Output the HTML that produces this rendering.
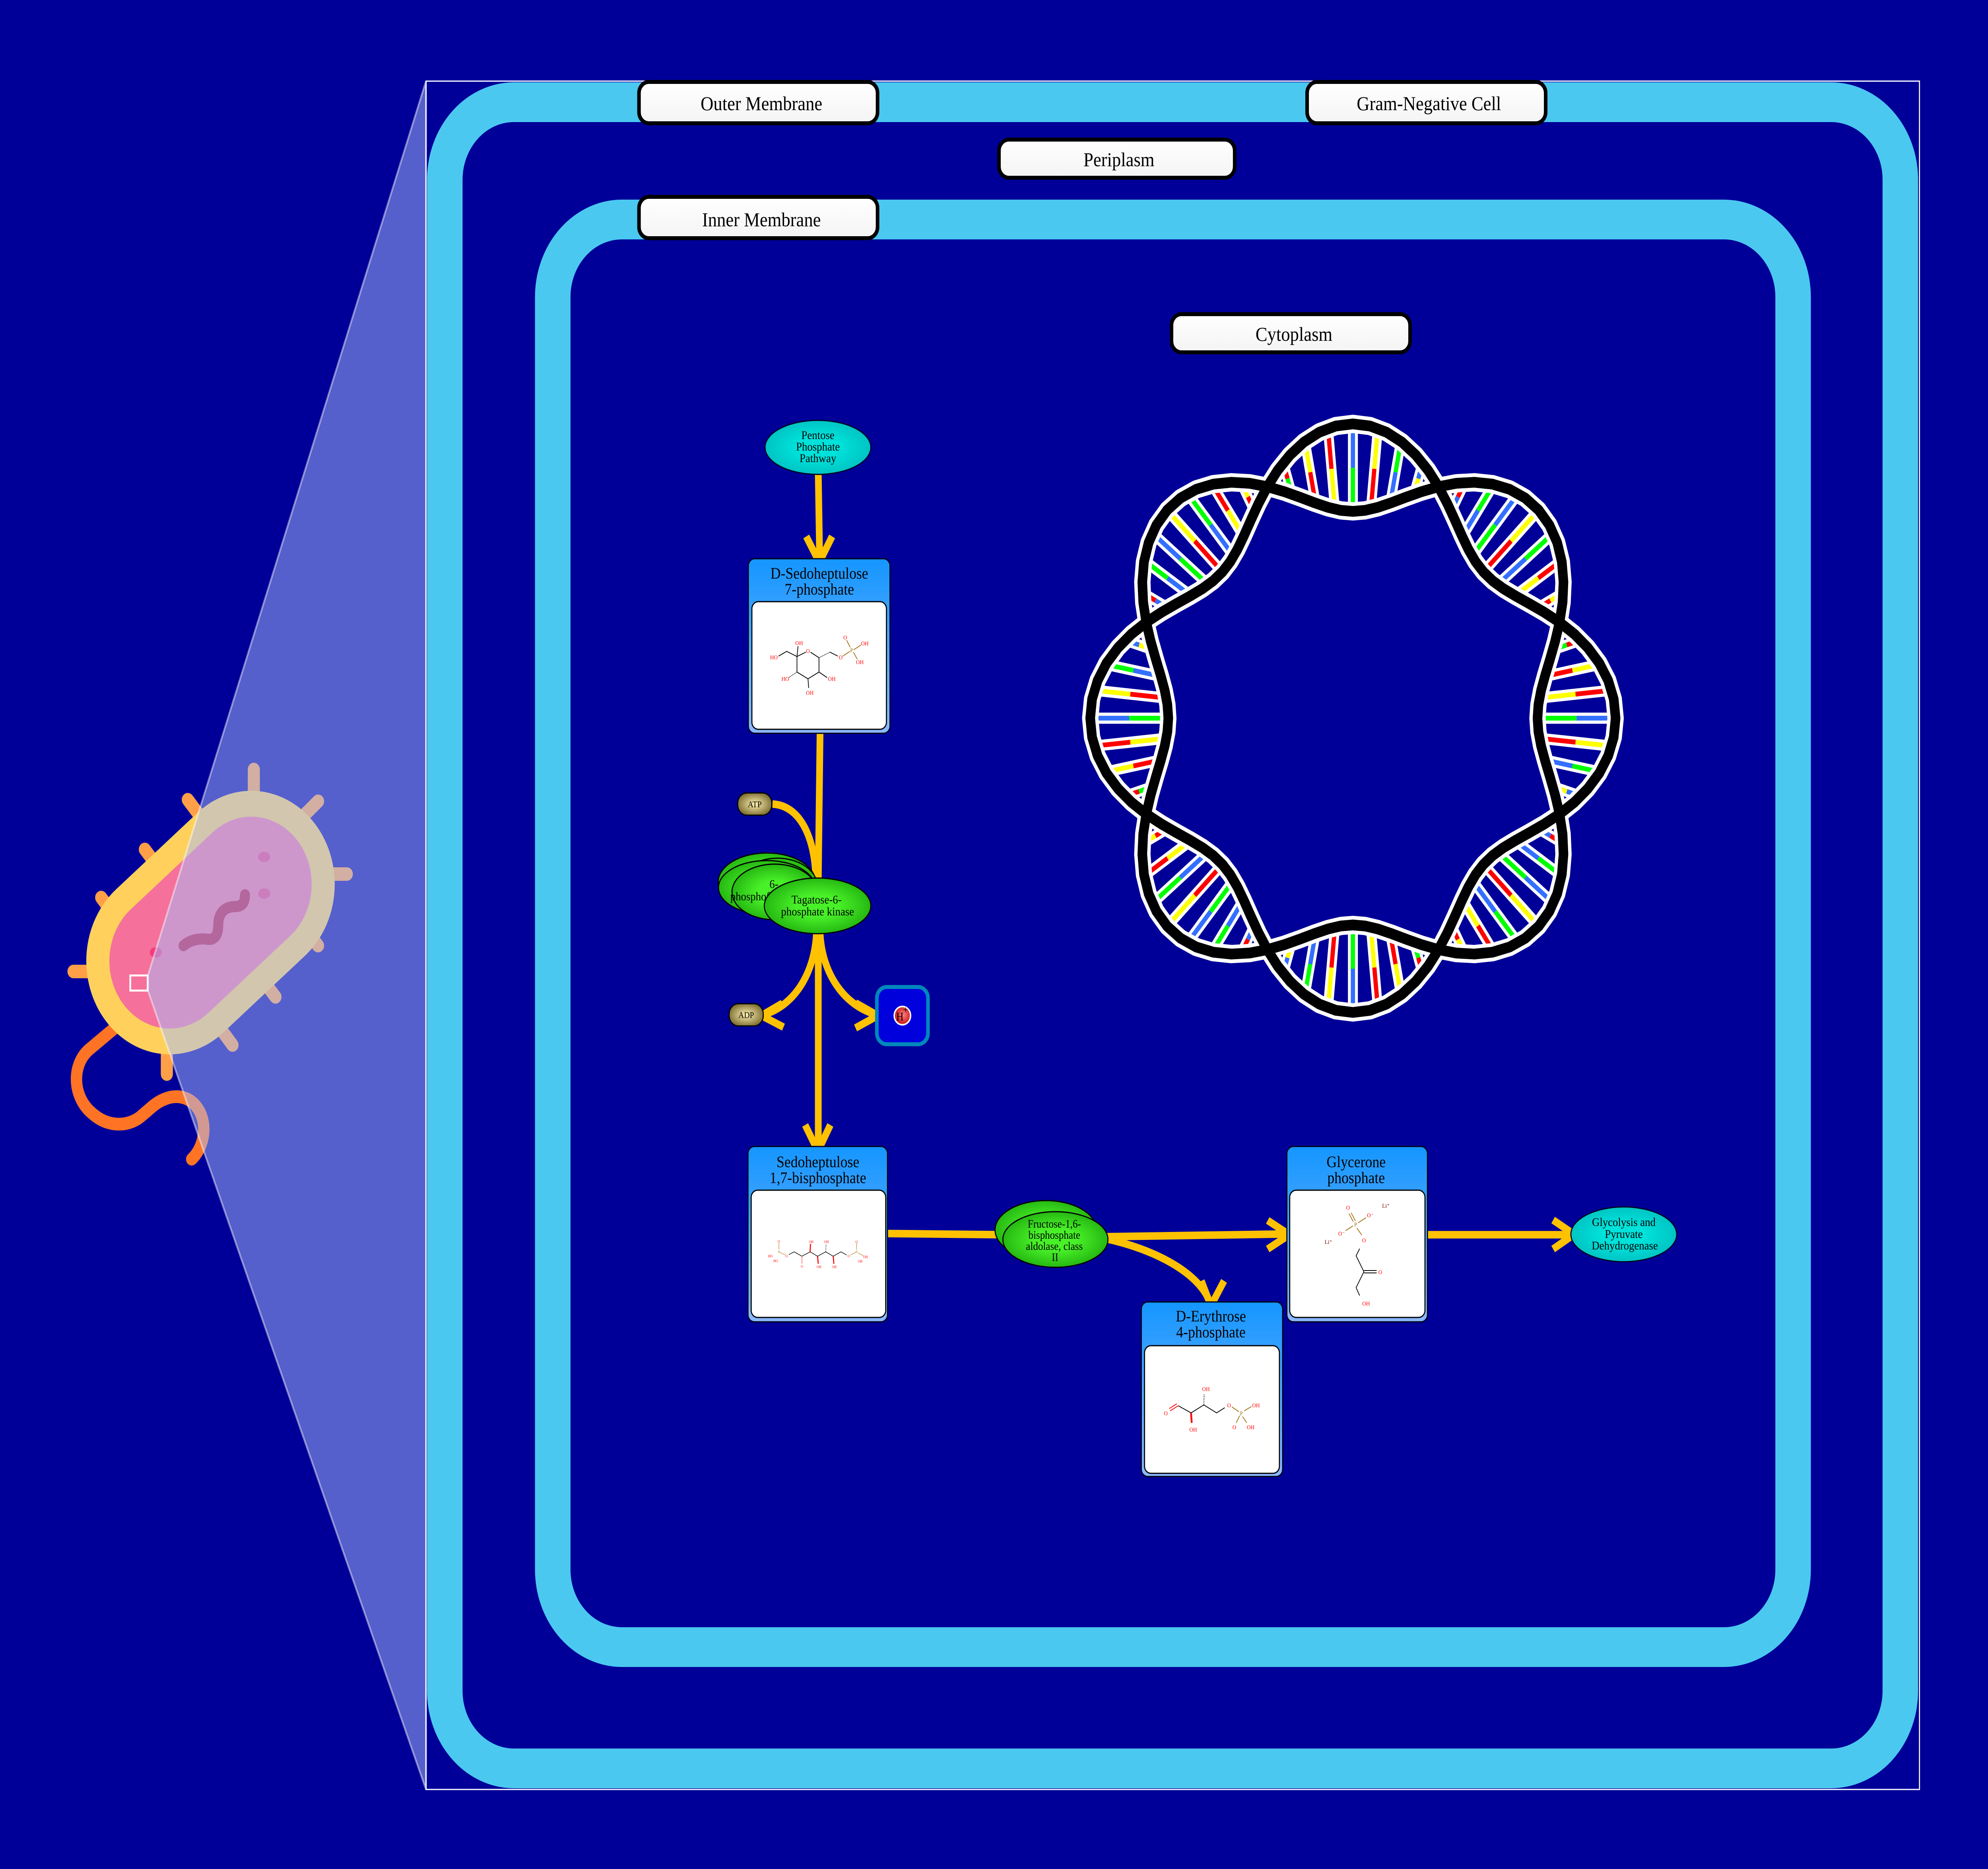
<!DOCTYPE html>
<html><head><meta charset="utf-8"><meta name="viewport" content="width=5600"><style>
html,body{margin:0;padding:0;background:#000099;width:100vw;height:100vh;overflow:hidden;}
svg{display:block;width:100vw;height:100vh;}
text{font-family:"Liberation Serif",serif;}
.mol{font-family:"Liberation Sans",sans-serif;fill:#ff0000;}
</style></head><body>
<svg viewBox="0 0 5600 4700" preserveAspectRatio="none" xmlns="http://www.w3.org/2000/svg" xmlns:xlink="http://www.w3.org/1999/xlink">
<defs>
<linearGradient id="hdr" x1="0" y1="0" x2="0" y2="1"><stop offset="0" stop-color="#1496ff"/><stop offset="1" stop-color="#8cb8ff"/></linearGradient>
<radialGradient id="grn" cx="0.5" cy="0.5" r="0.5"><stop offset="0.4" stop-color="#48f028"/><stop offset="1" stop-color="#26b812"/></radialGradient>
<radialGradient id="cyn" cx="0.5" cy="0.5" r="0.5"><stop offset="0.4" stop-color="#00e2da"/><stop offset="1" stop-color="#00c4c4"/></radialGradient>
<radialGradient id="olv" cx="0.5" cy="0.5" r="0.55"><stop offset="0" stop-color="#fff2b0"/><stop offset="1" stop-color="#7a6a30"/></radialGradient>
<radialGradient id="red" cx="0.55" cy="0.45" r="0.55"><stop offset="0" stop-color="#ff8080"/><stop offset="1" stop-color="#c81010"/></radialGradient>
<linearGradient id="lbl" x1="0" y1="0" x2="0" y2="1"><stop offset="0" stop-color="#ffffff"/><stop offset="1" stop-color="#f4f4f4"/></linearGradient>
<path id="so" d="M582.1,-241.1 L623.6,-211.7 L661.6,-177.3 L694.2,-138.1 L719.1,-94.7 L734.7,-48.2 L740,0 L734.7,48.2 L719.1,94.7 L694.2,138.1 L661.6,177.3 L623.6,211.7 L582.1,241.1"/>
<path id="si" d="M582.1,-241.1 L569.6,-193.3 L555.4,-148.8 L541.6,-107.7 L530.1,-69.8 L522.6,-34.2 L520,0 L522.6,34.2 L530.1,69.8 L541.6,107.7 L555.4,148.8 L569.6,193.3 L582.1,241.1"/>
<g id="rungsA">
 <g stroke="#fff" stroke-width="28">
  <line x1="528" y1="0" x2="732" y2="0"/>
  <line x1="536" y1="0" x2="724" y2="0" transform="rotate(5.5)"/>
  <line x1="536" y1="0" x2="724" y2="0" transform="rotate(-5.5)"/>
  <line x1="559" y1="0" x2="701" y2="0" transform="rotate(11)"/>
  <line x1="559" y1="0" x2="701" y2="0" transform="rotate(-11)"/>
  <line x1="597" y1="0" x2="663" y2="0" transform="rotate(17)"/>
  <line x1="597" y1="0" x2="663" y2="0" transform="rotate(-17)"/>
 </g>
 <g stroke-width="12">
  <line x1="528" y1="0" x2="630" y2="0" stroke="#00ff00"/><line x1="630" y1="0" x2="732" y2="0" stroke="#3370ff"/>
  <g transform="rotate(5.5)"><line x1="536" y1="0" x2="630" y2="0" stroke="#ff0000"/><line x1="630" y1="0" x2="724" y2="0" stroke="#ffff00"/></g>
  <g transform="rotate(-5.5)"><line x1="536" y1="0" x2="630" y2="0" stroke="#ffff00"/><line x1="630" y1="0" x2="724" y2="0" stroke="#ff0000"/></g>
  <g transform="rotate(11)"><line x1="559" y1="0" x2="630" y2="0" stroke="#3370ff"/><line x1="630" y1="0" x2="701" y2="0" stroke="#00ff00"/></g>
  <g transform="rotate(-11)"><line x1="559" y1="0" x2="630" y2="0" stroke="#ff0000"/><line x1="630" y1="0" x2="701" y2="0" stroke="#ffff00"/></g>
  <g transform="rotate(17)"><line x1="597" y1="0" x2="630" y2="0" stroke="#ffff00"/><line x1="630" y1="0" x2="663" y2="0" stroke="#3370ff"/></g>
  <g transform="rotate(-17)"><line x1="597" y1="0" x2="630" y2="0" stroke="#00ff00"/><line x1="630" y1="0" x2="663" y2="0" stroke="#ff0000"/></g>
 </g>
</g>
<g id="rungsB">
 <g stroke="#fff" stroke-width="28">
  <line x1="528" y1="0" x2="732" y2="0"/>
  <line x1="536" y1="0" x2="724" y2="0" transform="rotate(5.5)"/>
  <line x1="536" y1="0" x2="724" y2="0" transform="rotate(-5.5)"/>
  <line x1="559" y1="0" x2="701" y2="0" transform="rotate(11)"/>
  <line x1="559" y1="0" x2="701" y2="0" transform="rotate(-11)"/>
  <line x1="597" y1="0" x2="663" y2="0" transform="rotate(17)"/>
  <line x1="597" y1="0" x2="663" y2="0" transform="rotate(-17)"/>
 </g>
 <g stroke-width="12">
  <line x1="528" y1="0" x2="630" y2="0" stroke="#ff0000"/><line x1="630" y1="0" x2="732" y2="0" stroke="#ffff00"/>
  <g transform="rotate(5.5)"><line x1="536" y1="0" x2="630" y2="0" stroke="#3370ff"/><line x1="630" y1="0" x2="724" y2="0" stroke="#00ff00"/></g>
  <g transform="rotate(-5.5)"><line x1="536" y1="0" x2="630" y2="0" stroke="#00ff00"/><line x1="630" y1="0" x2="724" y2="0" stroke="#3370ff"/></g>
  <g transform="rotate(11)"><line x1="559" y1="0" x2="630" y2="0" stroke="#ffff00"/><line x1="630" y1="0" x2="701" y2="0" stroke="#ff0000"/></g>
  <g transform="rotate(-11)"><line x1="559" y1="0" x2="630" y2="0" stroke="#3370ff"/><line x1="630" y1="0" x2="701" y2="0" stroke="#00ff00"/></g>
  <g transform="rotate(17)"><line x1="597" y1="0" x2="630" y2="0" stroke="#ff0000"/><line x1="630" y1="0" x2="663" y2="0" stroke="#ffff00"/></g>
  <g transform="rotate(-17)"><line x1="597" y1="0" x2="630" y2="0" stroke="#3370ff"/><line x1="630" y1="0" x2="663" y2="0" stroke="#ff0000"/></g>
 </g>
</g>
<g id="strandW" fill="none" stroke="#fff" stroke-width="46" stroke-linejoin="round" stroke-linecap="round"><use xlink:href="#so"/><use xlink:href="#si"/></g>
<g id="strandK" fill="none" stroke="#000" stroke-width="27" stroke-linejoin="round" stroke-linecap="round"><use xlink:href="#so"/><use xlink:href="#si"/></g>
</defs>

<rect x="0" y="0" width="5600" height="4700" fill="#000099"/>

<!-- Bacterium -->
<g>
 <g stroke="#FF9F47" stroke-width="34" stroke-linecap="round" fill="none">
  <line x1="715" y1="1935" x2="715" y2="2100"/>
  <line x1="896" y1="2015" x2="790" y2="2110"/>
  <line x1="977" y1="2198" x2="820" y2="2198"/>
  <line x1="896" y1="2378" x2="800" y2="2263"/>
  <line x1="776" y1="2507" x2="680" y2="2392"/>
  <line x1="655" y1="2628" x2="560" y2="2513"/>
  <line x1="470" y1="2701" x2="470" y2="2550"/>
  <line x1="207" y1="2443" x2="370" y2="2443"/>
  <line x1="285" y1="2257" x2="381" y2="2372"/>
  <line x1="408" y1="2136" x2="504" y2="2251"/>
  <line x1="529" y1="2011" x2="625" y2="2126"/>
 </g>
 <path d="M330,2580 L250,2640 C200,2680 205,2760 260,2800 C310,2840 370,2830 400,2805 L430,2782 C480,2745 540,2750 565,2800 C585,2840 570,2890 540,2915" stroke="#FF7424" stroke-width="32" fill="none" stroke-linecap="round"/>
 <g transform="translate(593,2320) rotate(-40)">
  <rect x="-385" y="-235" width="770" height="470" rx="235" fill="#FFD15C"/>
  <rect x="-320" y="-170" width="640" height="340" rx="170" fill="#F5709A"/>
 </g>
 <path d="M517,2378 C540,2360 570,2360 585,2362 C615,2365 615,2335 615,2320 C618,2290 640,2280 660,2280 C690,2280 690,2260 690,2250" stroke="#C0103A" stroke-width="28" fill="none" stroke-linecap="round"/>
 <ellipse cx="744" cy="2155" rx="17" ry="13" fill="#F33B7D"/>
 <ellipse cx="744" cy="2247" rx="17" ry="13" fill="#F33B7D"/>
 <ellipse cx="439" cy="2395" rx="17" ry="13" fill="#F33B7D"/>
 <rect x="367" y="2453" width="49" height="38" fill="none" stroke="#fff" stroke-width="5"/>
</g>
<polygon points="417,2452 1200,204 1200,4500 417,2492" fill="rgba(167,188,253,0.51)" stroke="rgba(255,255,255,0.45)" stroke-width="5"/>

<!-- Membranes -->
<rect x="1200" y="204" width="4207" height="4296" fill="none" stroke="#fff" stroke-width="3"/>
<rect x="1253" y="257" width="4100" height="4190" rx="195" fill="none" stroke="#4BC8F0" stroke-width="100"/>
<rect x="1557" y="552" width="3494" height="3590" rx="195" fill="none" stroke="#4BC8F0" stroke-width="100"/>

<!-- Labels -->
<g stroke="#000" stroke-width="10" fill="url(#lbl)">
 <rect x="1800" y="206" width="672" height="104" rx="28"/>
 <rect x="3682" y="206" width="672" height="104" rx="28"/>
 <rect x="2814" y="351" width="664" height="96" rx="28"/>
 <rect x="1800" y="495" width="672" height="104" rx="28"/>
 <rect x="3300" y="790" width="672" height="96" rx="28"/>
</g>
<g font-size="50" text-anchor="middle" fill="#000">
 <text x="2145" y="277">Outer Membrane</text>
 <text x="4025" y="277">Gram-Negative Cell</text>
 <text x="3152" y="418">Periplasm</text>
 <text x="2145" y="569">Inner Membrane</text>
 <text x="3645" y="857">Cytoplasm</text>
</g>

<!-- DNA ring -->
<g transform="translate(3811,1806)">
 <use xlink:href="#rungsA"/>
 <use xlink:href="#rungsB" transform="rotate(-45)"/>
 <use xlink:href="#rungsA" transform="rotate(-90)"/>
 <use xlink:href="#rungsB" transform="rotate(-135)"/>
 <use xlink:href="#rungsA" transform="rotate(-180)"/>
 <use xlink:href="#rungsB" transform="rotate(-225)"/>
 <use xlink:href="#rungsA" transform="rotate(-270)"/>
 <use xlink:href="#rungsB" transform="rotate(-315)"/>
 <use xlink:href="#strandW"/><use xlink:href="#strandW" transform="rotate(-45)"/><use xlink:href="#strandW" transform="rotate(-90)"/><use xlink:href="#strandW" transform="rotate(-135)"/>
 <use xlink:href="#strandW" transform="rotate(-180)"/><use xlink:href="#strandW" transform="rotate(-225)"/><use xlink:href="#strandW" transform="rotate(-270)"/><use xlink:href="#strandW" transform="rotate(-315)"/>
 <use xlink:href="#strandK"/><use xlink:href="#strandK" transform="rotate(-45)"/><use xlink:href="#strandK" transform="rotate(-90)"/><use xlink:href="#strandK" transform="rotate(-135)"/>
 <use xlink:href="#strandK" transform="rotate(-180)"/><use xlink:href="#strandK" transform="rotate(-225)"/><use xlink:href="#strandK" transform="rotate(-270)"/><use xlink:href="#strandK" transform="rotate(-315)"/>
</g>

<!-- Connectors -->
<g stroke="#FFC200" stroke-width="19" fill="none" stroke-linejoin="miter">
 <line x1="2305" y1="1193" x2="2309" y2="1410"/>
 <polyline points="2271,1349 2308,1414 2344,1349"/>
 <line x1="2310" y1="1844" x2="2305" y2="2212"/>
 <path d="M2176,2022 C2250,2025 2296,2100 2298,2212"/>
 <line x1="2305" y1="2345" x2="2305" y2="2895"/>
 <polyline points="2268,2829 2304,2895 2339,2829"/>
 <path d="M2300,2345 C2295,2450 2235,2530 2150,2552"/>
 <polyline points="2204,2523 2145,2554 2207,2583"/>
 <path d="M2310,2345 C2315,2450 2380,2530 2470,2552"/>
 <polyline points="2410,2522 2473,2554 2410,2585"/>
 <line x1="2500" y1="3102" x2="2830" y2="3105"/>
 <path d="M3115,3110 L3630,3103"/>
 <polyline points="3571,3069 3632,3105 3571,3141"/>
 <path d="M3115,3115 C3290,3150 3395,3220 3411,3285"/>
 <polyline points="3384,3221 3411,3284 3448,3221"/>
 <line x1="4021" y1="3105" x2="4432" y2="3105"/>
 <polyline points="4375,3068 4434,3104 4375,3141"/>
</g>

<!-- Pentose -->
<ellipse cx="2304" cy="1125" rx="149" ry="68" fill="url(#cyn)" stroke="#002" stroke-width="3"/>
<g font-size="30" text-anchor="middle"><text x="2304" y="1104">Pentose</text><text x="2304" y="1133">Phosphate</text><text x="2304" y="1162">Pathway</text></g>

<!-- Box 1 -->
<rect x="2108" y="1405" width="399" height="439" rx="18" fill="url(#hdr)" stroke="#001" stroke-width="3"/>
<rect x="2118" y="1513" width="379" height="321" rx="18" fill="#fff" stroke="#000" stroke-width="3"/>
<g font-size="40" text-anchor="middle"><text x="2308" y="1455">D-Sedoheptulose</text><text x="2308" y="1495">7-phosphate</text></g>
<g stroke="#000" stroke-width="2" fill="none">
 <polyline points="2245,1651 2270,1640"/><polyline points="2283,1640 2307,1654 2307,1690 2276,1707 2245,1690 2245,1651"/>
 <polyline points="2193,1650 2216,1638 2245,1651"/><line x1="2307" y1="1654" x2="2338" y2="1640" stroke-dasharray="2,2"/><line x1="2338" y1="1640" x2="2360" y2="1650"/>
 <line x1="2245" y1="1690" x2="2222" y2="1704" stroke-dasharray="2,2"/><line x1="2307" y1="1690" x2="2330" y2="1704"/>
 <line x1="2276" y1="1707" x2="2278" y2="1730"/><line x1="2245" y1="1651" x2="2248" y2="1625"/>
 <g stroke="#a07010"><line x1="2374" y1="1650" x2="2394" y2="1638"/><line x1="2405" y1="1634" x2="2425" y2="1622"/><line x1="2404" y1="1640" x2="2415" y2="1658"/><line x1="2395" y1="1628" x2="2385" y2="1610"/></g>
</g>
<g class="mol" font-size="15" text-anchor="middle">
 <text x="2180" y="1658">HO</text><text x="2251" y="1622">OH</text><text x="2276" y="1642">O</text><text x="2212" y="1712">HO</text><text x="2281" y="1747">OH</text><text x="2343" y="1712">OH</text><text x="2368" y="1658">O</text><text x="2399" y="1640" fill="#a07010">P</text><text x="2381" y="1608">O</text><text x="2436" y="1623">OH</text><text x="2422" y="1670">OH</text>
</g>

<!-- ATP / ADP -->
<rect x="2078" y="1994" width="96" height="56" rx="26" fill="url(#olv)" stroke="#000" stroke-width="3"/>
<text x="2126" y="2030" font-size="22" text-anchor="middle">ATP</text>
<rect x="2054" y="2524" width="96" height="56" rx="26" fill="url(#olv)" stroke="#000" stroke-width="3"/>
<text x="2102" y="2560" font-size="22" text-anchor="middle">ADP</text>

<!-- Enzyme group 1 -->
<g stroke="#000" stroke-width="3" fill="url(#grn)">
 <ellipse cx="2160" cy="2218" rx="137" ry="73"/>
 <ellipse cx="2190" cy="2228" rx="112" ry="70"/>
 <ellipse cx="2160" cy="2232" rx="136" ry="68"/>
 <ellipse cx="2182" cy="2243" rx="120" ry="70"/>
</g>
<g font-size="30" text-anchor="middle"><text x="2180" y="2233">6-</text><text x="2182" y="2264">phosphofructokinase</text></g>
<ellipse cx="2303" cy="2278" rx="150" ry="70" fill="url(#grn)" stroke="#000" stroke-width="3"/>
<g font-size="30" text-anchor="middle"><text x="2300" y="2272">Tagatose-6-</text><text x="2303" y="2302">phosphate kinase</text></g>

<!-- H+ -->
<rect x="2470" y="2482" width="144" height="144" rx="28" fill="#0000DD" stroke="#0088BB" stroke-width="10"/>
<circle cx="2542" cy="2554" r="23" fill="url(#red)" stroke="#fff" stroke-width="4"/>
<text x="2535" y="2566" font-size="28" text-anchor="middle">H</text>
<text x="2551" y="2548" font-size="26" text-anchor="middle">+</text>

<!-- Box 2 Sedoheptulose 1,7 -->
<rect x="2107" y="2883" width="393" height="441" rx="18" fill="url(#hdr)" stroke="#001" stroke-width="3"/>
<rect x="2116" y="2993" width="379" height="320" rx="18" fill="#fff" stroke="#000" stroke-width="3"/>
<g font-size="40" text-anchor="middle"><text x="2304" y="2935">Sedoheptulose</text><text x="2304" y="2975">1,7-bisphosphate</text></g>
<g stroke="#000" stroke-width="1.5" fill="none">
 <polyline points="2222,3155 2237,3148 2259,3159 2282,3148 2303,3159 2326,3148 2347,3159 2369,3148 2385,3156"/>
 <line x1="2259" y1="3159" x2="2259" y2="3178" stroke="#f55"/><line x1="2282" y1="3148" x2="2283" y2="3128" stroke="#f00" stroke-width="3"/>
 <line x1="2303" y1="3159" x2="2305" y2="3178" stroke="#f00" stroke-width="3"/><line x1="2326" y1="3148" x2="2327" y2="3128" stroke-dasharray="2,2"/>
 <line x1="2347" y1="3159" x2="2349" y2="3178" stroke="#f00" stroke-width="3"/>
 <g stroke="#c09040"><line x1="2194" y1="3148" x2="2212" y2="3156"/><line x1="2194" y1="3142" x2="2194" y2="3126"/><line x1="2396" y1="3156" x2="2413" y2="3148"/><line x1="2413" y1="3142" x2="2413" y2="3126"/><line x1="2416" y1="3150" x2="2432" y2="3158"/></g>
</g>
<g class="mol" font-size="9" text-anchor="middle" fill="#f66">
 <text x="2194" y="3125">O</text><text x="2194" y="3151" fill="#c09040">P</text><text x="2170" y="3162">HO</text><text x="2185" y="3174">HO</text><text x="2216" y="3162">O</text><text x="2259" y="3188">O</text><text x="2285" y="3126">OH</text><text x="2307" y="3189">OH</text><text x="2328" y="3126">OH</text><text x="2350" y="3189">OH</text><text x="2391" y="3162">O</text><text x="2413" y="3151" fill="#c09040">P</text><text x="2413" y="3126">O</text><text x="2438" y="3164">OH</text><text x="2423" y="3175">OH</text>
</g>

<!-- Enzyme 2 -->
<ellipse cx="2946" cy="3093" rx="143" ry="74" fill="url(#grn)" stroke="#000" stroke-width="3"/>
<ellipse cx="2973" cy="3117" rx="148" ry="70" fill="url(#grn)" stroke="#000" stroke-width="3"/>
<g font-size="28" text-anchor="middle"><text x="2970" y="3087">Fructose-1,6-</text><text x="2970" y="3115">bisphosphate</text><text x="2970" y="3143">aldolase, class</text><text x="2972" y="3171">II</text></g>

<!-- Glycerone -->
<rect x="3625" y="2883" width="396" height="441" rx="18" fill="url(#hdr)" stroke="#001" stroke-width="3"/>
<rect x="3633" y="2993" width="381" height="320" rx="18" fill="#fff" stroke="#000" stroke-width="3"/>
<g font-size="40" text-anchor="middle"><text x="3820" y="2935">Glycerone</text><text x="3820" y="2975">phosphate</text></g>
<g stroke="#000" stroke-width="2" fill="none">
 <g stroke="#a07010"><line x1="3800" y1="3052" x2="3812" y2="3072"/><line x1="3806" y1="3050" x2="3818" y2="3070"/><line x1="3826" y1="3075" x2="3848" y2="3062"/><line x1="3811" y1="3083" x2="3790" y2="3095"/><line x1="3822" y1="3088" x2="3836" y2="3106"/></g>
 <polyline points="3830,3140 3820,3158 3842,3198 3820,3238 3830,3258"/>
 <line x1="3842" y1="3195" x2="3878" y2="3195"/><line x1="3842" y1="3201" x2="3878" y2="3201"/>
</g>
<g class="mol" font-size="15" text-anchor="middle">
 <text x="3797" y="3042">O</text><text x="3819" y="3084" fill="#a07010">P</text><text x="3860" y="3061">O⁻</text><text x="3779" y="3107">O⁻</text><text x="3842" y="3124">O</text><text x="3888" y="3204">O</text><text x="3848" y="3283">OH</text><text x="3904" y="3037" fill="#700">Li⁺</text><text x="3742" y="3128" fill="#700">Li⁺</text>
</g>

<!-- Erythrose -->
<rect x="3215" y="3274" width="398" height="439" rx="18" fill="url(#hdr)" stroke="#001" stroke-width="3"/>
<rect x="3224" y="3384" width="380" height="321" rx="18" fill="#fff" stroke="#000" stroke-width="3"/>
<g font-size="40" text-anchor="middle"><text x="3411" y="3323">D-Erythrose</text><text x="3411" y="3363">4-phosphate</text></g>
<g stroke="#000" stroke-width="2" fill="none">
 <polyline points="3319,3535 3355,3553 3391,3533 3427,3553 3450,3540"/>
 <line x1="3296" y1="3548" x2="3319" y2="3535" stroke="#f00"/><line x1="3294" y1="3542" x2="3315" y2="3530" stroke="#f00"/>
 <line x1="3355" y1="3553" x2="3357" y2="3578" stroke="#f00" stroke-width="5"/><line x1="3391" y1="3533" x2="3392" y2="3505" stroke-dasharray="2,2"/>
 <g stroke="#a07010"><line x1="3470" y1="3538" x2="3490" y2="3550"/><line x1="3505" y1="3548" x2="3525" y2="3537"/><line x1="3492" y1="3560" x2="3482" y2="3578"/><line x1="3500" y1="3562" x2="3512" y2="3578"/></g>
</g>
<g class="mol" font-size="15" text-anchor="middle">
 <text x="3284" y="3559">O</text><text x="3361" y="3600">OH</text><text x="3397" y="3498">OH</text><text x="3462" y="3539">O</text><text x="3497" y="3559" fill="#a07010">P</text><text x="3538" y="3539">OH</text><text x="3477" y="3594">O</text><text x="3523" y="3594">OH</text>
</g>

<!-- Glycolysis -->
<ellipse cx="4574" cy="3104" rx="149" ry="69" fill="url(#cyn)" stroke="#002" stroke-width="3"/>
<g font-size="30" text-anchor="middle"><text x="4574" y="3083">Glycolysis and</text><text x="4574" y="3113">Pyruvate</text><text x="4577" y="3142">Dehydrogenase</text></g>
</svg>
</body></html>
